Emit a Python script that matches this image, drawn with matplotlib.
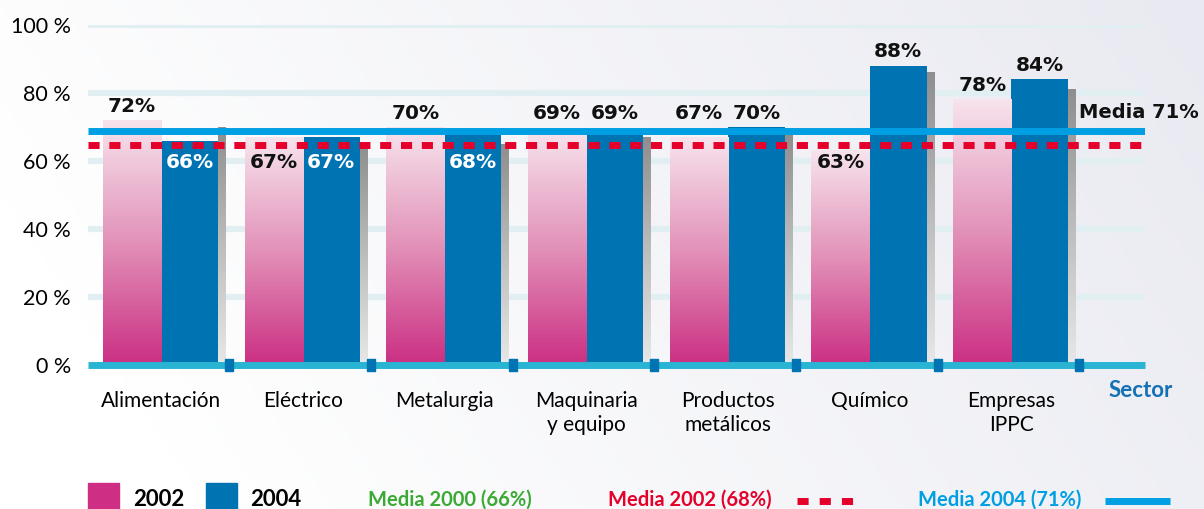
import matplotlib
matplotlib.use('Agg')
import matplotlib.pyplot as plt
import numpy as np
from matplotlib.colors import LinearSegmentedColormap
from matplotlib.patches import Rectangle
from matplotlib.lines import Line2D

# data
sectors = ['Alimentación', 'Eléctrico', 'Metalurgia', 'Maquinaria\ny equipo',
           'Productos\nmetálicos', 'Químico', 'Empresas\nIPPC']
v2002 = [72, 67, 70, 69, 67, 63, 78]
v2004 = [66, 67, 68, 69, 70, 88, 84]
shadow = [70, 65, 65, 67, 68, 86, 81]          # grey back bars
inside2002 = [False, True, False, False, False, True, False]
inside2004 = [True, True, True, False, False, False, False]
yticks = [0, 20, 40, 60, 80, 100]
media2002_line = 64.7     # drawn position of the red dashed line
media2004_line = 68.8     # drawn position of the blue line
legend_media = ['Media 2000 (66%)', 'Media 2002 (68%)', 'Media 2004 (71%)']

PINK = '#cf2e85'
BLUE = '#0073b3'
RED = '#e4002b'
CYAN = '#009fe3'

W, H = 1204, 509
fig = plt.figure(figsize=(W / 100, H / 100), dpi=100)

# soft background
bg = fig.add_axes([0, 0, 1, 1], zorder=-10)
gx = np.linspace(0, 1, 300)
gy = np.linspace(0, 1, 100)
GX, GY = np.meshgrid(gx, gy)
bgval = np.clip(GX * 0.9 + GY * 0.25 - 0.15, 0, 1)
bgmap = LinearSegmentedColormap.from_list('bg', ['#ffffff', '#e9eaf1'])
bg.imshow(bgval, cmap=bgmap, aspect='auto', extent=[0, 1, 0, 1], origin='lower')
bg.axis('off')

ax = fig.add_axes([87.5 / W, (H - 365) / H, (1145 - 87.5) / W, 340 / H])
ax.patch.set_alpha(0)
n = len(sectors)
idx = np.arange(n)

# grid lines
for t in yticks[1:]:
    ax.axhline(t, color='#e1eef2', lw=4.5, zorder=0.5)

pink_cmap = LinearSegmentedColormap.from_list('pk', ['#cb2f83', '#e291b8', '#f7e4ed'])
grey_cmap = LinearSegmentedColormap.from_list('gr', ['#e8e8e8', '#bdbdbd', '#8e8e8e'])
grad = np.linspace(0, 1, 256).reshape(-1, 1)

bars_p = ax.bar(idx + 0.109, v2002, width=0.41, align='edge', color='none', zorder=2)
bars_b = ax.bar(idx + 0.519, v2004, width=0.402, align='edge', color=BLUE, zorder=2)
bars_g = ax.bar(idx + 0.921, shadow, width=0.056, align='edge', color='none', zorder=1.9)

for b in bars_p:
    ax.imshow(grad, cmap=pink_cmap, aspect='auto', origin='lower', zorder=2,
              extent=[b.get_x(), b.get_x() + b.get_width(), 0, b.get_height()])
for b in bars_g:
    ax.imshow(grad, cmap=grey_cmap, aspect='auto', origin='lower', zorder=1.9,
              extent=[b.get_x(), b.get_x() + b.get_width(), 0, b.get_height()])

# average lines
ax.plot([0, 7.46], [media2004_line] * 2, color=CYAN, lw=5, zorder=3,
        solid_capstyle='butt')
ax.plot([0, 7.46], [media2002_line] * 2, color=RED, lw=5, zorder=3,
        dashes=(1.6, 1.4), dash_capstyle='butt')
ax.text(7.0, 74.3, 'Media 71%', fontsize=14, fontweight='bold', ha='left',
        va='center', color='#111111')

# value labels
def put_labels(bars, vals, inside, txtcol):
    for b, v, ins in zip(bars, vals, inside):
        cx = b.get_x() + b.get_width() / 2
        if ins:
            ax.text(cx, 59.5, f'{v}%', ha='center', va='center', fontsize=14.5,
                    fontweight='bold', color=txtcol, zorder=5)
        else:
            ax.text(cx, max(v, 69.8) + 1.3, f'{v}%', ha='center', va='bottom',
                    fontsize=14.5, fontweight='bold', color='#111111', zorder=5)

put_labels(bars_p, v2002, inside2002, '#111111')
put_labels(bars_b, v2004, inside2004, 'white')

# zero axis with group separators
ax.plot([0, 7.46], [0, 0], color='#29b4d3', lw=5, zorder=3, clip_on=False,
        solid_capstyle='butt')
sep = [(-1, -1.7), (1, -1.7), (1, 1.7), (-1, 1.7), (-1, -1.7)]
ax.plot(idx + 1, [0] * n, ls='none', marker=sep, markersize=8.6, color=BLUE,
        zorder=4, clip_on=False)

ax.set_xlim(0, 7.463)
ax.set_ylim(0, 100)
for s in ax.spines.values():
    s.set_visible(False)
ax.set_yticks(yticks)
ax.set_yticklabels([f'{t} %' for t in yticks], fontsize=15.5, family='Lato')
ax.tick_params(axis='y', length=0, pad=12)
ax.set_xticks(idx + 0.52)
ax.set_xticklabels(sectors, fontsize=15, family='Lato', linespacing=1.3,
                   va='top')
ax.tick_params(axis='x', length=0, pad=18.5)

ax.text(7.43, -7.5, 'Sector', fontsize=16, fontweight='bold', family='Lato',
        color='#1471b3', ha='center', va='center', clip_on=False)

# legend along the bottom
fig.patches.append(Rectangle((88 / W, 0), 31 / W, 26 / H, transform=fig.transFigure,
                             color=PINK, figure=fig))
fig.patches.append(Rectangle((206 / W, 0), 31 / W, 26 / H, transform=fig.transFigure,
                             color=BLUE, figure=fig))
fig.text(133 / W, 3 / H, '2002', fontsize=16, fontweight='bold', family='Lato',
         va='baseline')
fig.text(250 / W, 3 / H, '2004', fontsize=16, fontweight='bold', family='Lato',
         va='baseline')
for txt, x0, col in zip(legend_media, [368, 608, 918], ['#3aaa35', RED, CYAN]):
    fig.text(x0 / W, 3 / H, txt, fontsize=14.5, fontweight='bold', family='Lato',
             color=col, va='baseline')
fig.lines.append(Line2D([797 / W, 853 / W], [8 / H, 8 / H], transform=fig.transFigure,
                        color=RED, lw=5, dashes=(1.6, 1.6), dash_capstyle='butt'))
fig.lines.append(Line2D([1105 / W, 1170 / W], [8 / H, 8 / H], transform=fig.transFigure,
                        color=CYAN, lw=5, solid_capstyle='butt'))

fig.savefig('out.png', dpi=100)
